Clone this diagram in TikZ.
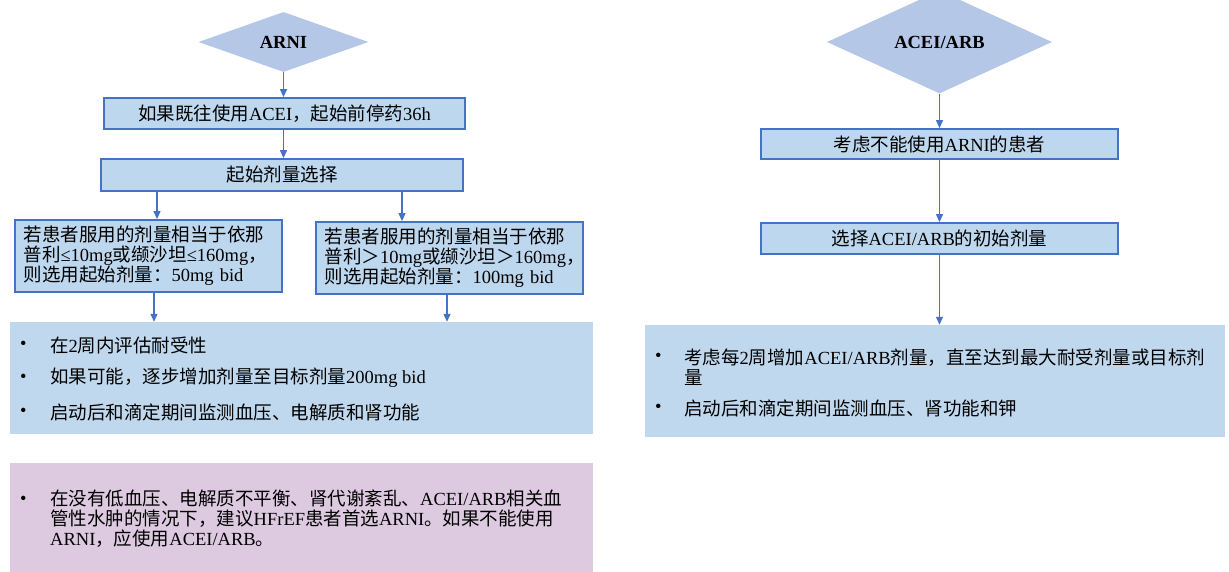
\documentclass[tikz,border=0pt]{standalone}
\usepackage{fontspec}
\setmainfont{Liberation Serif}
\newfontfamily\cjk{Noto Sans CJK SC}
\usetikzlibrary{shapes.geometric,arrows.meta}
\XeTeXinterchartokenstate=1
\chardef\cjkcls=10
\count255="3000
\loop\ifnum\count255<"A000 \XeTeXcharclass\count255=\cjkcls \advance\count255 by 1 \repeat
\count255="FF00
\loop\ifnum\count255<"FFF0 \XeTeXcharclass\count255=\cjkcls \advance\count255 by 1 \repeat
\XeTeXinterchartoks 0 \cjkcls={\cjk}
\XeTeXinterchartoks 4095 \cjkcls={\cjk}
\XeTeXinterchartoks \cjkcls 0={\rmfamily}
\XeTeXinterchartoks \cjkcls 4095={\rmfamily}
\definecolor{boxfill}{HTML}{BDD7EE}
\definecolor{boxline}{HTML}{4472C4}
\definecolor{diafill}{HTML}{B4C7E7}
\definecolor{bigfill}{HTML}{C0D8EE}
\definecolor{pinkfill}{HTML}{DDCAE1}
\tikzset{
  txt/.style={font=\fontsize{18.5}{20}\selectfont, text=black},
  dia/.style={shape=diamond, fill=diafill, inner sep=0pt, txt, font=\fontsize{18.5}{20}\selectfont\bfseries},
  boxnode/.style={draw=boxline, line width=1.8pt, fill=boxfill, inner sep=0pt, txt},
  widebox/.style={boxnode, text width=250pt, inner xsep=8.5pt, align=left, minimum height=72pt},
  panel/.style={fill=#1, inner sep=0pt},
  arr/.style={draw=boxline, line width=1.2pt, -{Triangle[width=7pt,length=8pt]}},
  bul/.style={txt, anchor=west, inner sep=0pt, align=left},
}
\begin{document}
\begin{tikzpicture}[x=1pt,y=-1pt]
\useasboundingbox (0,0) rectangle (1229,572);
% ---------- left column ----------
\node[dia, minimum width=170pt, minimum height=60pt] (arni) at (283.5,42) {ARNI};
\node[boxnode, minimum width=361pt, minimum height=31pt] (b1) at (284.5,113.5) {如果既往使用ACEI，起始前停药36h};
\node[boxnode, minimum width=362pt, minimum height=32pt] (b2) at (282,175) {起始剂量选择};
\node[widebox] (b3) at (148.5,256) {若患者服用的剂量相当于依那\\普利≤10mg或缬沙坦≤160mg，\\则选用起始剂量：50mg bid};
\node[widebox] (b4) at (449.5,258) {若患者服用的剂量相当于依那\\普利＞10mg或缬沙坦＞160mg，\\则选用起始剂量：100mg bid};
\node[panel=bigfill, minimum width=583pt, minimum height=112pt] (bl) at (301.5,378) {};
\node[panel=pinkfill, minimum width=583pt, minimum height=110pt] (pk) at (301.5,518) {};
\node[bul] (bl1d) at (20,345) {•};
\node[bul] (bl1) at (50,345) {在2周内评估耐受性};
\node[bul] (bl2d) at (20,378) {•};
\node[bul] (bl2) at (50,378) {如果可能，逐步增加剂量至目标剂量200mg bid};
\node[bul] (bl3d) at (20,412) {•};
\node[bul] (bl3) at (50,412) {启动后和滴定期间监测血压、电解质和肾功能};
\node[bul] (pkd) at (20,500) {•};
\node[bul] (pkt) at (50,519) {在没有低血压、电解质不平衡、肾代谢紊乱、ACEI/ARB相关血\\管性水肿的情况下，建议HFrEF患者首选ARNI。如果不能使用\\ARNI，应使用ACEI/ARB。};
\coordinate (x157) at (157,0);
\coordinate (x402) at (402,0);
\coordinate (x154) at (154,0);
\coordinate (x447) at (447,0);
\draw[arr] (arni.south) -- (b1.north -| arni.south);
\draw[arr] (b1.south -| arni.south) -- (b2.north -| arni.south);
\draw[arr] (b2.south -| x157) -- (b3.north -| x157);
\draw[arr] (b2.south -| x402) -- (b4.north -| x402);
\draw[arr] (b3.south -| x154) -- (bl.north -| x154);
\draw[arr] (b4.south -| x447) -- (bl.north -| x447);
% ---------- right column ----------
\node[dia, minimum width=225pt, minimum height=60pt] (acei) at (939.5,42) {ACEI/ARB};
\node[boxnode, minimum width=357pt, minimum height=30pt] (r1) at (939.5,144) {考虑不能使用ARNI的患者};
\node[boxnode, minimum width=357pt, minimum height=31pt] (r2) at (939.5,238.5) {选择ACEI/ARB的初始剂量};
\node[panel=bigfill, minimum width=580pt, minimum height=112pt] (br) at (935,381) {};
\node[bul] (br1d) at (655,357) {•};
\node[bul] (br1) at (684,367) {考虑每2周增加ACEI/ARB剂量，直至达到最大耐受剂量或目标剂\\量};
\node[bul] (br2d) at (655,408) {•};
\node[bul] (br2) at (684,408) {启动后和滴定期间监测血压、肾功能和钾};
\draw[arr] (acei.south) -- (r1.north -| acei.south);
\draw[arr] (r1.south -| acei.south) -- (r2.north -| acei.south);
\draw[arr] (r2.south -| acei.south) -- (br.north -| acei.south);
\end{tikzpicture}
\end{document}
